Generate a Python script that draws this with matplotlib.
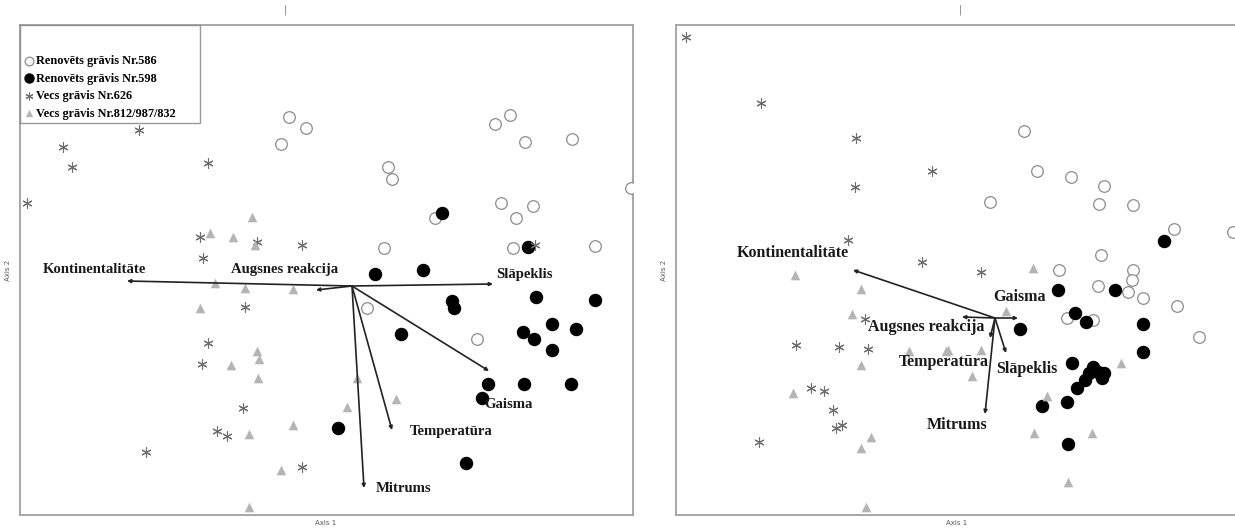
# libraries
import matplotlib
matplotlib.use('Agg')
import matplotlib.pyplot as plt

plt.rcParams['font.family'] = ['Liberation Serif', 'DejaVu Serif']

# ---- data: ordination scores (plot units) ----
groups = ['Renovēts grāvis Nr.586', 'Renovēts grāvis Nr.598',
          'Vecs grāvis Nr.626', 'Vecs grāvis Nr.812/987/832']

# left panel
l586_x = [289, 306, 281, 388, 392, 495, 510, 525, 572, 631, 435, 501, 533, 516, 384, 513, 595, 367, 477]
l586_y = [117, 128, 144, 167, 179, 124, 115, 142, 139, 188, 218, 203, 206, 218, 248, 248, 246, 308, 339]
l598_x = [442, 528, 375, 423, 452, 454, 536, 595, 401, 523, 534, 552, 576, 552, 488, 524, 571, 482, 338, 466]
l598_y = [213, 247, 274, 270, 301, 308, 297, 300, 334, 332, 339, 324, 329, 350, 384, 384, 384, 398, 428, 463]
l626_x = [139, 63, 72, 27, 208, 200, 203, 257, 302, 535, 245, 208, 202, 243, 217, 227, 146, 302]
l626_y = [130, 147, 167, 203, 163, 237, 258, 242, 245, 245, 307, 343, 364, 408, 431, 436, 452, 467]
l812_x = [252, 210, 233, 255, 215, 245, 293, 200, 257, 259, 231, 258, 293, 249, 281, 249, 357, 347, 396]
l812_y = [217, 233, 237, 245, 283, 288, 289, 308, 351, 359, 365, 378, 425, 434, 470, 507, 378, 407, 399]

# right panel
r586_x = [1024, 1037, 1071, 1104, 990, 1099, 1133, 1174, 1233, 1101, 1059, 1133, 1132, 1098, 1128, 1143, 1177, 1199, 1067, 1093]
r586_y = [131, 171, 177, 186, 202, 204, 205, 229, 232, 255, 270, 270, 280, 286, 292, 298, 306, 337, 318, 320]
r598_x = [1164, 1058, 1115, 1075, 1086, 1020, 1143, 1143, 1072, 1093, 1098, 1104, 1102, 1089, 1085, 1077, 1067, 1042, 1068]
r598_y = [241, 290, 290, 313, 322, 329, 324, 352, 363, 367, 372, 373, 378, 373, 380, 388, 402, 406, 444]
r626_x = [686, 761, 856, 855, 932, 848, 922, 981, 865, 796, 839, 868, 811, 824, 833, 836, 842, 759]
r626_y = [37, 103, 138, 187, 171, 240, 262, 272, 319, 345, 347, 349, 388, 391, 410, 428, 425, 442]
r812_x = [1033, 795, 861, 852, 909, 946, 861, 793, 871, 861, 866, 1006, 948, 981, 972, 1121, 1047, 1034, 1092, 1068]
r812_y = [268, 275, 289, 314, 351, 351, 365, 393, 437, 448, 507, 311, 350, 350, 376, 363, 396, 433, 433, 482]

# environmental vectors: names, arrow ends, label positions
env_names = ['Kontinentalitāte', 'Augsnes reakcija', 'Slāpeklis', 'Gaisma', 'Temperatūra', 'Mitrums']
l_origin = (352, 286)
l_end_x = [127, 316, 493, 489, 392, 364]
l_end_y = [281, 290, 284, 371, 430, 488]
l_lab_x = [94, 285, 524, 508, 451, 404]
l_lab_y = [270, 270, 275, 405, 432, 489]
r_origin = (995, 318)
r_end_x = [853, 962, 1006, 1018, 990, 985]
r_end_y = [270, 317, 353, 318, 338, 414]
r_lab_x = [793, 926, 1027, 1019, 944, 957]
r_lab_y = [253, 327, 369, 297, 362, 425]

W, H = 1235, 529
fig = plt.figure(figsize=(W / 100, H / 100), dpi=100)

asterisk = (6, 2, 0)


def panel(rect, xlim, pts, origin, ends, labs, lab_size, legend=False):
    ax = fig.add_axes(rect)
    ax.set_xlim(*xlim)
    ax.set_ylim(515, 25)
    ax.set_xticks([])
    ax.set_yticks([])
    for s in ax.spines.values():
        s.set_color('#a0a0a0')
        s.set_linewidth(1.3)
    (x1, y1), (x2, y2), (x3, y3), (x4, y4) = pts
    ax.scatter(x1, y1, s=70, facecolors='white', edgecolors='#8c8c8c', linewidths=0.9, label=groups[0], zorder=3)
    ax.scatter(x2, y2, s=75, color='black', label=groups[1], zorder=3)
    ax.scatter(x3, y3, s=45, marker=asterisk, color='#6e6e6e', linewidths=0.8, label=groups[2], zorder=3)
    ax.scatter(x4, y4, s=48, marker='^', color='#b4b4b4', linewidths=0, label=groups[3], zorder=3)
    ex, ey = ends
    lx, ly = labs
    for i, name in enumerate(env_names):
        ax.annotate('', xy=(ex[i], ey[i]), xytext=origin,
                    arrowprops=dict(arrowstyle='-|>', color='#222222', lw=1.2,
                                    mutation_scale=5, shrinkA=0, shrinkB=0), zorder=4)
        ax.text(lx[i], ly[i], name, ha='center', va='center', fontsize=lab_size,
                fontweight='bold', color='#1a1a1a', zorder=5)
    if legend:
        leg = ax.legend(loc='upper left', bbox_to_anchor=(0, 1, 0.294, 0), mode='expand',
                        borderaxespad=0, fancybox=False, edgecolor='#808080',
                        prop={'weight': 'bold', 'size': 8.8}, handletextpad=0.1,
                        handlelength=0.9, labelspacing=0.45, borderpad=0.3,
                        title=' ', title_fontsize=17, markerscale=0.75)
        leg.get_frame().set_linewidth(1.0)
    return ax


panel([20 / W, 1 - 515 / H, 613 / W, 490 / H], (20, 633),
      [(l586_x, l586_y), (l598_x, l598_y), (l626_x, l626_y), (l812_x, l812_y)],
      l_origin, (l_end_x, l_end_y), (l_lab_x, l_lab_y), 10.6, legend=True)
ax_r = panel([676 / W, 1 - 515 / H, 566 / W, 490 / H], (676, 1242),
             [(r586_x, r586_y), (r598_x, r598_y), (r626_x, r626_y), (r812_x, r812_y)],
             r_origin, (r_end_x, r_end_y), (r_lab_x, r_lab_y), 11.5)
ax_r.spines['right'].set_visible(False)

# axis titles
for xc in (326, 957):
    fig.text(xc / W, 1 - 523 / H, 'Axis 1', ha='center', va='center', fontsize=5,
             family='DejaVu Sans', color='#555555')
for xc in (8, 664):
    fig.text(xc / W, 1 - 270 / H, 'Axis 2', ha='center', va='center', fontsize=5,
             rotation=90, family='DejaVu Sans', color='#555555')
for xc in (285, 960):
    fig.text(xc / W, 1 - 10 / H, '|', ha='center', va='center', fontsize=7,
             family='DejaVu Sans', color='#777777')

fig.savefig('out.png', dpi=100, facecolor='white')
